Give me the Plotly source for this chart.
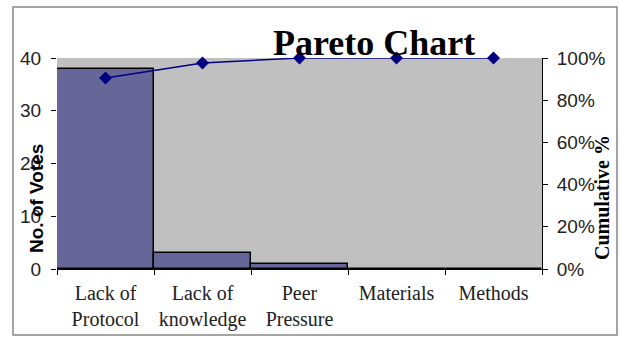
import plotly.graph_objects as go

categories = ["Lack of<br>Protocol", "Lack of<br>knowledge", "Peer<br>Pressure", "Materials", "Methods"]
votes = [38, 3, 1, 0, 0]
cumulative_pct = [0.905, 0.976, 1.0, 1.0, 1.0]

W, H = 620, 338
L, R, T, B = 57, 78, 58, 69
pw, ph = W - L - R, H - T - B

def px_x(x):
    return (x - L) / pw

def px_y(y):
    return (H - B - y) / ph

fig = go.Figure()
fig.add_trace(go.Bar(
    x=categories, y=votes, width=1,
    marker=dict(color="#666699", line=dict(color="black", width=1.5)),
    showlegend=False,
))
fig.add_trace(go.Scatter(
    x=categories, y=cumulative_pct, yaxis="y2", mode="lines+markers",
    line=dict(color="#000080", width=1.5),
    marker=dict(symbol="diamond", size=10, color="#000080"),
    showlegend=False, cliponaxis=False,
))

fig.update_layout(
    width=W, height=H,
    margin=dict(l=L, r=R, t=T, b=B),
    paper_bgcolor="white",
    plot_bgcolor="#C0C0C0",
    bargap=0,
    xaxis=dict(
        showline=True, linecolor="black", linewidth=1, automargin=False,
        ticks="outside", tickson="boundaries", ticklen=5, tickcolor="black",
        ticklabelstandoff=6,
        tickfont=dict(family="Liberation Serif", size=20, color="#222"),
        showgrid=False, zeroline=False,
    ),
    yaxis=dict(
        range=[0, 40], dtick=10, showgrid=False, zeroline=False, automargin=False,
        showline=False, ticks="outside", ticklen=5, tickcolor="black",
        ticklabelstandoff=6,
        tickfont=dict(family="Liberation Sans", size=19, color="#222"),
    ),
    yaxis2=dict(
        overlaying="y", side="right", range=[0, 1], dtick=0.2, tickformat=".0%",
        showgrid=False, zeroline=False, showline=True, linecolor="black", linewidth=1,
        automargin=False,
        ticks="outside", ticklen=5, tickcolor="black",
        ticklabelstandoff=5,
        tickfont=dict(family="Liberation Sans", size=19, color="#222"),
    ),
    shapes=[dict(
        type="rect", xref="paper", yref="paper",
        x0=px_x(13), x1=px_x(617), y0=px_y(335), y1=px_y(7),
        line=dict(color="#888", width=1.5), layer="below",
    )],
    annotations=[
        dict(text="<b>Pareto Chart</b>", xref="paper", yref="paper",
             x=px_x(374), y=px_y(65), xanchor="center", yanchor="bottom",
             showarrow=False, font=dict(family="Liberation Serif", size=36, color="black")),
        dict(text="<b>No. of Votes</b>", xref="paper", yref="paper",
             x=px_x(36), y=px_y(199), xanchor="center", yanchor="middle", textangle=-90,
             showarrow=False, font=dict(family="Liberation Sans", size=19, color="black")),
        dict(text="<b>Cumulative %</b>", xref="paper", yref="paper",
             x=px_x(602), y=px_y(198), xanchor="center", yanchor="middle", textangle=-90,
             showarrow=False, font=dict(family="Liberation Serif", size=20, color="black")),
    ],
)

fig.write_html("out.html")
